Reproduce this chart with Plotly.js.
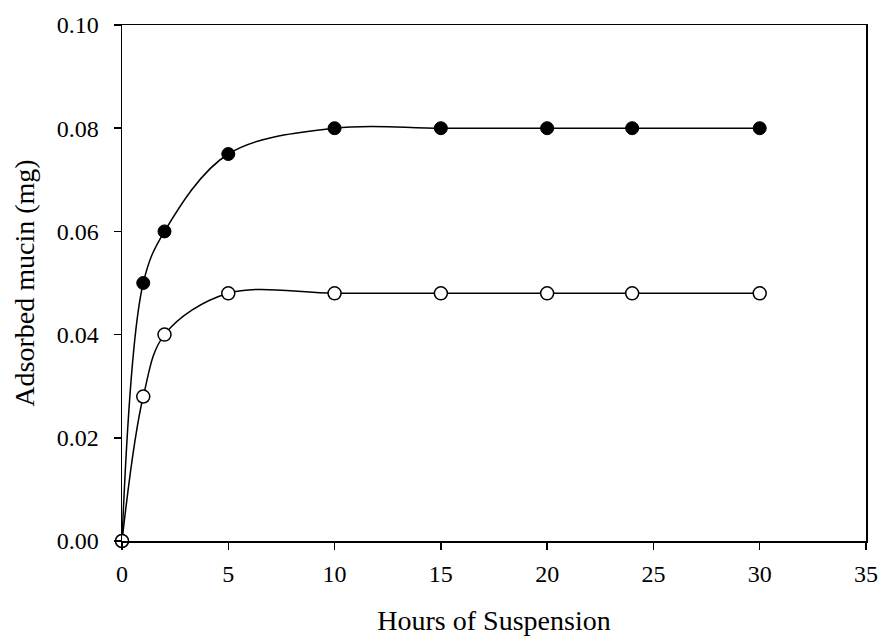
<!DOCTYPE html>
<html>
<head>
<meta charset="utf-8">
<script src="https://cdn.plot.ly/plotly-3.0.1.min.js"></script>
<style>html,body{margin:0;padding:0;background:#fff;}#chart{width:880px;height:637px;}</style>
</head>
<body>
<div id="chart"></div>
<script>
const hours = [0, 1, 2, 5, 10, 15, 20, 24, 30];
const filledSeries = [0, 0.050, 0.060, 0.075, 0.080, 0.080, 0.080, 0.080, 0.080];
const openSeries = [0, 0.028, 0.040, 0.048, 0.048, 0.048, 0.048, 0.048, 0.048];
const xTitle = 'Hours of Suspension';
const yTitle = 'Adsorbed mucin (mg)';

const tickFont = {family: 'Liberation Serif, Times New Roman, serif', size: 24, color: '#000'};
const titleFont = {family: 'Liberation Serif, Times New Roman, serif', size: 28, color: '#000'};

const traces = [
  {x: hours, y: filledSeries, mode: 'lines+markers', type: 'scatter',
   line: {color: '#000', width: 1.5, shape: 'spline', smoothing: 1},
   marker: {symbol: 'circle', size: 13, color: '#000', line: {color: '#000', width: 1}},
   cliponaxis: false, showlegend: false},
  {x: hours, y: openSeries, mode: 'lines+markers', type: 'scatter',
   line: {color: '#000', width: 1.5, shape: 'spline', smoothing: 1},
   marker: {symbol: 'circle', size: 13, color: '#fff', line: {color: '#000', width: 1.5}},
   cliponaxis: false, showlegend: false}
];

const axisCommon = {
  showline: true, linecolor: '#000', linewidth: 1.5, mirror: true,
  ticks: 'outside', ticklen: 7, tickwidth: 1.5, tickcolor: '#000',
  showgrid: false, zeroline: false, tickfont: tickFont
};

const layout = {
  width: 880, height: 637,
  margin: {l: 122, r: 14, t: 25, b: 96},
  paper_bgcolor: '#fff', plot_bgcolor: '#fff',
  font: tickFont,
  xaxis: Object.assign({}, axisCommon, {range: [0, 35], dtick: 5, tick0: 0, ticklabelstandoff: 4,
    title: {text: xTitle, font: titleFont, standoff: 24}}),
  yaxis: Object.assign({}, axisCommon, {range: [0, 0.10], dtick: 0.02, tick0: 0, tickformat: '.2f', ticklabelstandoff: 10,
    title: {text: yTitle, font: titleFont, standoff: 14}})
};

Plotly.newPlot('chart', traces, layout, {displayModeBar: false, staticPlot: true});
</script>
</body>
</html>
